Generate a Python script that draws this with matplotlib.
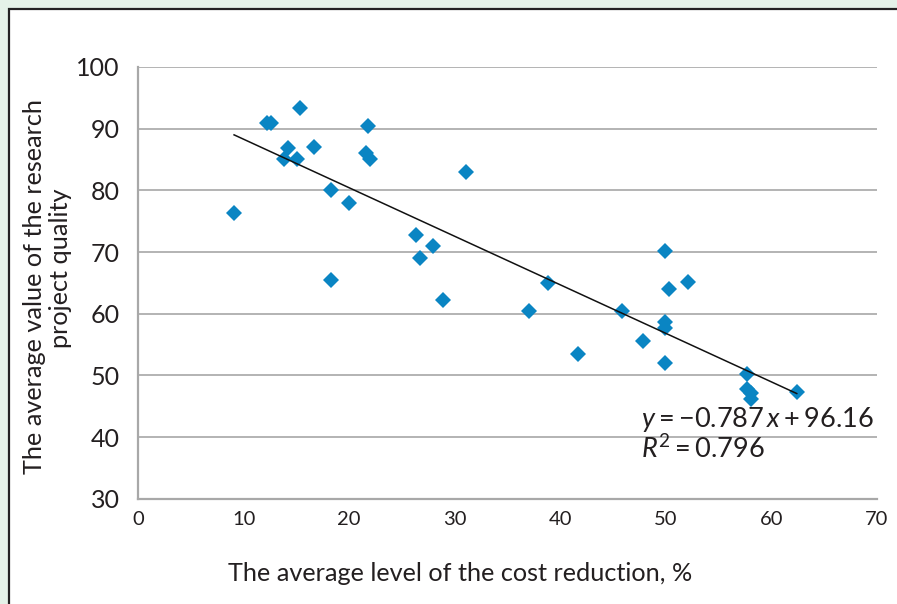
import numpy as np
import matplotlib
matplotlib.use('Agg')
import matplotlib.pyplot as plt
from matplotlib.patches import Rectangle

plt.rcParams['font.family'] = ['Lato', 'DejaVu Sans']
plt.rcParams['mathtext.fontset'] = 'custom'
plt.rcParams['mathtext.rm'] = 'Lato'
plt.rcParams['mathtext.it'] = 'Lato:italic'

# cost reduction (%) vs research project quality
cost = [9.1, 12.2, 12.6, 15.3, 14.2, 13.8, 15.1, 16.7, 21.8, 21.6, 22.0,
        18.3, 20.0, 18.3, 26.3, 26.7, 27.9, 28.9, 31.1, 37.0, 38.8, 41.7,
        45.8, 47.8, 49.9, 49.9, 49.9, 50.3, 49.9, 52.1, 57.7, 57.7, 58.1,
        58.1, 62.4]
quality = [76.4, 90.9, 90.9, 93.4, 86.8, 85.1, 85.1, 87.0, 90.5, 86.0, 85.1,
           80.1, 77.9, 65.4, 72.7, 69.1, 71.0, 62.3, 82.9, 60.5, 65.0, 53.5,
           60.5, 55.5, 70.1, 58.7, 57.7, 64.0, 52.0, 65.2, 50.3, 47.8, 47.2,
           46.1, 47.3]

slope = -0.787
intercept = 96.16
eq_text = '$y = \\mathrm{-}0.787\\,x + 96.16$'
r2_text = '$R^2 = 0.796$'

x_ticks = [0, 10, 20, 30, 40, 50, 60, 70]
y_ticks = [30, 40, 50, 60, 70, 80, 90, 100]
ylabel_lines = ['The average value of the research', 'project quality']

fig = plt.figure(figsize=(8.97, 6.04), dpi=100)
fig.patch.set_facecolor('#e4f2e8')
panel = Rectangle((9 / 897, -0.05), 1.1, 1 - 9 / 604 + 0.05,
                  transform=fig.transFigure, facecolor='white',
                  edgecolor='#222222', lw=1.6, zorder=-10)
fig.patches.append(panel)

ax = fig.add_axes([138 / 897, 1 - 498.7 / 604, (877 - 138) / 897, (498.7 - 67) / 604])
ax.set_facecolor('white')

ax.plot(cost, quality, 'D', color='#0a85c3', markersize=8.5, mew=0, zorder=3)
xs = np.array([min(cost), max(cost)])
ax.plot(xs, slope * xs + intercept, color='#111111', lw=1.1, zorder=4)

ax.set_xlim(0, 70)
ax.set_ylim(30, 100)
ax.set_xticks(x_ticks)
ax.set_yticks(y_ticks)
ax.yaxis.grid(True, color='#b3b3b3', lw=1.4)
ax.set_axisbelow(True)
for s in ['top', 'right']:
    ax.spines[s].set_visible(False)
for s in ['left', 'bottom']:
    ax.spines[s].set_color('#a8a8a8')
    ax.spines[s].set_linewidth(1.6)
ax.tick_params(axis='x', length=0, pad=9, labelsize=14.5, labelcolor='#231f20')
ax.tick_params(axis='y', length=0, pad=13, labelsize=18, labelcolor='#231f20')

ax.set_xlabel('The average level of the cost reduction, %', fontsize=18.2,
              color='#231f20', labelpad=24, x=0.436)

# y label as two rotated lines (second line sits a bit higher, as in the original)
fig.text(35 / 897, 1 - 286 / 604, ylabel_lines[0], rotation=90, fontsize=18.2,
         color='#231f20', ha='center', va='center')
fig.text(60 / 897, 1 - 268 / 604, ylabel_lines[1], rotation=90, fontsize=18.2,
         color='#231f20', ha='center', va='center')

ax.text(47.6, 42.9, eq_text, fontsize=19.5, color='#231f20', va='center', ha='left')
ax.text(47.6, 38.0, r2_text, fontsize=19.5, color='#231f20', va='center', ha='left')

fig.savefig('out.png', dpi=100, facecolor=fig.get_facecolor())
